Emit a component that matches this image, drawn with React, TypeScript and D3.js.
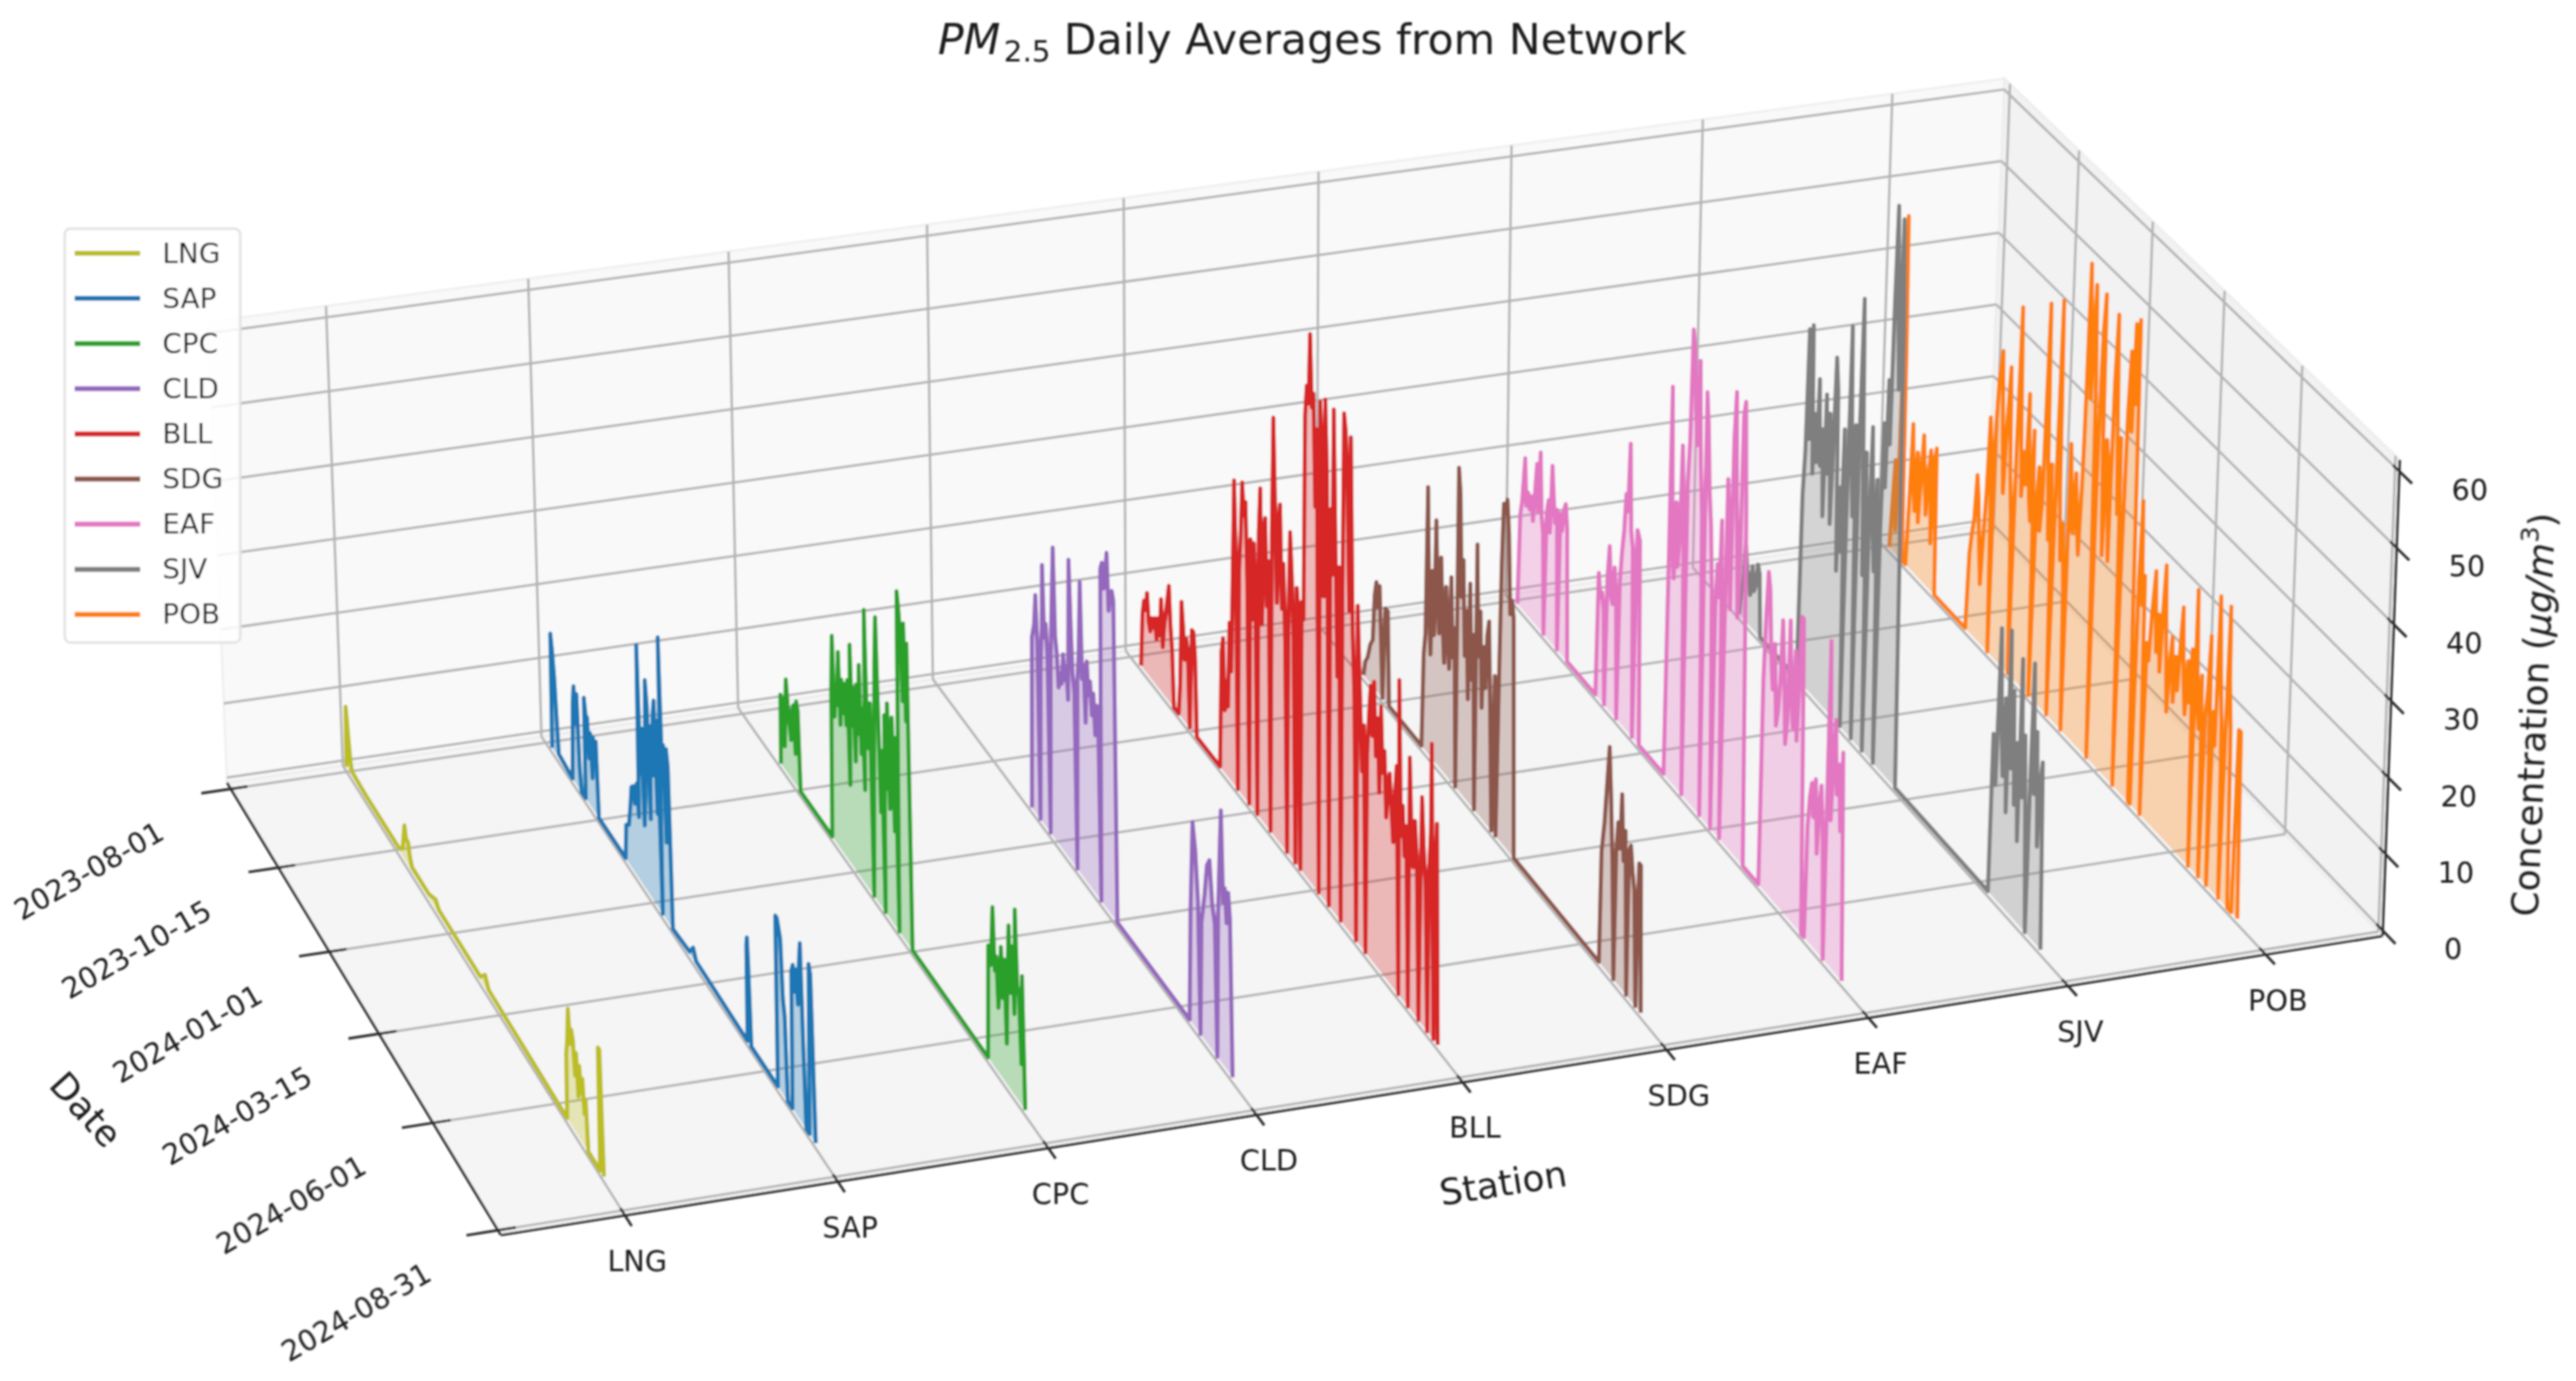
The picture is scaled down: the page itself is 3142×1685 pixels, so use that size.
import React from 'react';
import * as d3 from 'd3';

const stations = ['LNG', 'SAP', 'CPC', 'CLD', 'BLL', 'SDG', 'EAF', 'SJV', 'POB'];
const stationColors = ['#bcbd22', '#1f77b4', '#2ca02c', '#9467bd', '#d62728', '#8c564b', '#e377c2', '#7f7f7f', '#ff7f0e'];
const dateTicks = ['2023-08-01', '2023-10-15', '2024-01-01', '2024-03-15', '2024-06-01', '2024-08-31'];
const concTicks = [0, 10, 20, 30, 40, 50, 60];

// [days since 2023-08-01, PM2.5]
const LNG = [[0,0],[2,8],[3,7],[5,4],[7,1.5],[9,0.5],[30,0.3],[80,0.3],[86,1],[90,4.5],[92,3],[95,3],[97,1.5],[100,0.5],[125,0.5],[135,1.2],[140,0.5],[200,0.4],[207,1.6],[212,0.4],[322,0],[323,8],[325,10],[327,14],[329,10],[331,12],[333,11],[335,7],[337,10],[339,5],[341,9],[343,6],[345,8],[347,4],[349,6],[351,0],[367,0],[368,15],[370,15],[372,0]];
const SAP = [[10,0],[12,15],[14,13],[16,10],[18,5],[20,0.5],[40,0],[43,10],[45,12.5],[47,8],[49,12],[51,3],[53,0],[59,0],[60,13],[62,11],[64,11],[66,6],[68,9.5],[70,4],[72,9.5],[74,7],[76,9.5],[78,0],[116,0],[118,4.5],[122,5],[125,8],[127,10.5],[130,11],[132,9],[135,12],[137,8],[139,30],[141,14],[143,20],[145,8],[147,12],[150,27],[152,24],[154,10],[156,22],[158,16],[160,24],[162,26],[164,12],[166,24],[168,0],[170,35],[172,18],[174,22],[176,10],[178,22],[180,20],[182,0],[205,0.3],[210,1.5],[214,0.3],[283,0],[284,12],[285,13],[286,10],[288,0],[323,0],[324,21],[326,21],[328,20],[330,19],[332,12],[334,10],[336,0],[342,0],[344,17],[346,18],[348,15],[350,18],[352,14],[354,19],[356,22],[358,10],[360,0],[364,0],[367,21],[369,20],[372,0]];
const CPC = [[54,0],[55,9],[57,8],[59,9],[60,3],[63,12],[65,9],[67,7],[69,5],[71,9],[73,10],[75,4],[77,11],[79,10],[81,0],[124,0],[126,19],[128,26],[130,16],[132,20],[134,18],[136,25],[138,16],[140,22],[142,18],[144,22],[146,17],[148,23],[150,10],[152,28],[154,18],[156,23],[158,14],[160,24],[162,18],[164,27],[166,16],[168,22],[170,12],[172,35],[174,20],[176,18],[178,24],[180,0],[182,14],[185,30],[187,36],[189,24],[191,12],[193,20],[195,0],[197,25],[199,16],[201,27],[203,14],[205,20],[207,26],[209,12],[211,24],[213,0],[216,43],[218,41],[220,38],[222,30],[224,40],[226,28],[228,38],[230,0],[326,0],[328,14],[331,12],[334,19.5],[336,12],[338,14],[340,8],[342,11],[344,16],[346,10],[348,15],[350,5],[352,14],[354,20],[356,12],[358,18],[360,10],[362,23],[364,14],[366,13],[368,5],[370,16],[372,0]];
const CLD = [[125,0],[127,22],[130,24],[132,28],[134,22],[136,0],[138,20],[140,25],[141,33],[143,24],[145,26],[147,22],[149,0],[151,22],[153,30],[155,37],[157,26],[159,24],[161,20],[163,22],[165,21],[167,25],[169,22],[171,24],[173,20],[175,38],[177,30],[179,24],[181,22],[183,0],[185,24],[187,28],[189,37],[191,25],[193,27],[195,20],[197,28],[199,24],[201,26],[203,22],[205,25],[207,20],[209,24],[211,21],[213,0],[215,42],[217,43],[219,40],[221,42],[223,45],[225,38],[227,40],[229,41],[231,40],[233,0],[321,0],[323,14],[326,25],[329,22],[332,16],[334,0],[336,14],[340,18],[343,22],[346,23],[349,18],[352,16],[354,0],[356,18],[358,25],[360,31],[362,20],[364,22],[366,18],[368,22],[370,19],[372,0]];
const BLL = [[14,0],[16,7],[18,9],[20,8],[22,10.5],[24,7],[26,6],[28,8],[30,7],[32,8.5],[34,6],[36,9],[38,7],[40,12],[42,6],[44,9],[46,11],[48,13],[50,15],[52,10],[54,7],[56,0],[62,0],[64,4],[66,15],[68,12],[70,8],[72,11],[74,9],[76,0],[79,13],[81,13],[83,10],[85,0],[114,0],[116,15],[118,17],[120,8],[122,12],[124,9],[126,20],[128,14],[130,26],[132,39],[134,30],[136,0],[138,28],[140,33],[142,40],[144,36],[146,38],[148,28],[150,0],[152,34],[154,24],[156,34],[158,27],[160,0],[162,36],[164,42],[166,25],[168,36],[170,39],[172,28],[174,34],[176,0],[178,38],[180,53],[182,42],[184,30],[186,40],[188,43],[190,30],[192,36],[194,26],[196,0],[198,30],[200,41],[202,36],[204,28],[206,0],[208,35],[210,32],[212,0],[214,34],[216,32],[218,58],[220,62],[222,60],[224,69],[226,60],[228,62],[230,48],[232,58],[234,0],[236,62],[238,55],[240,38],[242,63],[244,54],[246,0],[248,50],[250,42],[252,63],[254,46],[256,30],[258,44],[260,0],[262,40],[264,64],[266,62],[268,56],[270,40],[272,62],[274,38],[276,30],[278,0],[280,42],[283,30],[285,22],[287,28],[289,0],[291,25],[293,30],[295,34],[297,28],[299,35],[301,26],[303,31],[305,22],[307,33],[309,25],[311,28],[313,20],[315,24],[317,26],[319,22],[321,18],[323,24],[325,28],[327,0],[328,39],[330,20],[332,24],[334,18],[336,22],[338,0],[340,31],[342,22],[344,18],[346,24],[348,20],[350,0],[352,15],[354,28],[356,22],[358,18],[360,0],[362,20],[364,25],[365,36],[367,0],[369,20],[371,27],[372,0]];
const SDG = [[52,0],[54,2],[57,3],[60,5],[63,6],[65,12],[67,14],[69,11],[71,14],[73,7],[75,0],[78,12],[81,12],[83,0],[122,0],[124,12],[126,15],[128,34],[130,20],[132,13],[134,24],[136,16],[138,31],[140,22],[142,17],[144,27],[146,19],[148,14],[150,24],[152,18],[154,14],[156,26],[158,16],[160,20],[162,0],[164,41],[166,38],[168,25],[170,30],[172,18],[174,24],[176,13],[178,28],[180,16],[182,22],[184,0],[186,34],[188,20],[190,26],[192,14],[194,22],[196,17],[198,24],[200,26],[202,14],[204,0],[207,20],[209,0],[212,22],[214,35],[216,43],[218,42],[220,44],[222,40],[224,30],[226,32],[228,30],[230,0],[326,0],[328,14],[331,18],[334,24],[336,28],[338,22],[340,14],[342,0],[344,16],[346,20],[348,17],[350,24],[352,16],[354,20],[356,0],[358,18],[360,19],[362,16],[364,14],[366,0],[369,18],[371,18],[372,0]];
const EAF = [[8,0],[10,12],[12,14],[15,20],[17,14],[19,16],[21,14],[23,16],[25,13],[27,17],[29,21],[31,15],[33,23],[35,15],[37,13],[39,0],[41,16],[43,18],[45,14],[47,23],[49,19],[51,16],[53,18],[55,0],[57,18],[59,16],[61,19],[63,20],[65,17],[67,0],[100,0],[102,16],[104,13],[106,14],[108,12],[110,0],[112,17],[114,21],[116,15],[118,14],[120,19],[122,15],[124,0],[126,18],[128,22],[130,25],[132,30],[134,28],[136,37],[138,26],[140,24],[142,0],[145,27],[148,26],[150,0],[178,0],[180,24],[182,50],[184,30],[186,26],[188,36],[190,28],[192,32],[194,44],[196,36],[198,0],[200,40],[202,46],[204,60],[206,58],[208,50],[210,46],[212,57],[214,44],[216,38],[218,0],[220,54],[222,50],[224,42],[226,38],[228,30],[230,0],[232,28],[234,34],[236,30],[238,40],[240,0],[244,46],[246,40],[248,30],[250,52],[252,58],[254,42],[256,30],[258,38],[260,56],[262,58],[264,44],[266,0],[283,0],[285,26],[287,34],[289,40],[291,38],[293,30],[295,26],[297,32],[299,22],[301,24],[303,28],[305,36],[307,30],[309,21],[311,24],[313,37],[315,28],[317,24],[319,34],[321,23],[323,30],[325,39],[327,39],[329,0],[332,0],[334,14],[336,18],[338,20],[340,16],[342,21],[344,12],[346,18],[348,21],[350,15],[352,0],[354,20],[356,40],[358,18],[360,25],[362,31],[364,22],[366,26],[368,18],[370,28],[372,0]];
const SJV = [[47,0],[49,3],[51,5],[53,10],[55,7],[57,6],[59,4],[61,8],[63,5],[65,6],[67,9],[69,8],[71,0],[112,0],[114,24],[116,30],[118,46],[120,32],[122,47],[124,28],[126,36],[128,30],[130,41],[132,30],[134,35],[136,24],[138,40],[140,30],[142,38],[144,24],[146,34],[148,46],[150,42],[152,19],[154,30],[156,22],[158,38],[160,0],[162,30],[164,52],[166,36],[168,28],[170,40],[172,0],[174,40],[176,57],[178,40],[180,22],[182,38],[184,0],[186,28],[188,42],[190,30],[192,24],[194,36],[196,0],[198,30],[200,44],[202,36],[204,50],[206,42],[208,60],[210,73],[212,60],[214,50],[216,72],[218,60],[220,0],[318,0],[320,20],[323,14],[326,34],[328,22],[330,16],[332,26],[334,12],[336,35],[338,18],[340,28],[342,14],[344,22],[346,10],[348,33],[350,16],[352,24],[354,12],[356,0],[358,20],[360,34],[362,18],[364,26],[366,12],[368,20],[370,23],[372,0]];
const POB = [[6,0],[8,6],[10,12],[12,3],[14,13],[16,45],[18,28],[20,0],[24,0],[26,8],[28,19],[30,12],[32,8],[34,16],[36,7],[38,13],[40,19],[42,14],[44,9],[46,15],[48,18],[50,6],[52,17],[54,19],[56,0],[90,0],[92,10],[94,13],[96,15],[98,21],[100,18],[102,12],[104,7.5],[106,14],[108,20],[110,30],[112,26],[114,0],[116,30],[118,36],[121,40],[123,30],[125,22],[127,30],[130,39],[132,26],[134,20],[136,0],[138,30],[140,48],[142,34],[144,24],[146,30],[148,26],[150,38],[152,25],[154,22],[156,34],[158,0],[160,24],[162,30],[164,22],[166,26],[169,52],[171,32],[173,22],[175,32],[177,0],[179,22],[182,54],[184,30],[186,21],[188,26],[190,18],[192,0],[194,37],[196,30],[198,26],[200,34],[202,28],[204,24],[206,33],[207,40],[209,62],[211,52],[212,45],[215,60],[217,48],[219,0],[221,40],[223,55],[225,60],[226,40],[228,27],[230,42],[232,38],[234,27],[236,50],[238,59],[240,46],[242,34],[244,44],[246,0],[248,30],[250,48],[252,56],[254,46],[256,60],[258,50],[260,61],[262,0],[264,0],[266,28],[268,39],[270,26],[272,30],[274,0],[276,22],[278,20],[280,26],[283,32],[285,22],[287,27],[289,20],[291,28],[293,34],[295,24],[297,16],[299,22],[301,26],[303,18],[305,24],[307,20],[309,26],[311,31],[313,22],[315,18],[317,25],[319,20],[321,27],[323,0],[325,35],[327,22],[329,18],[331,25],[333,0],[335,20],[337,24],[339,31],[341,0],[343,22],[345,18],[347,37],[349,28],[351,22],[353,0],[355,20],[357,37],[358,28],[360,22],[362,0],[366,0],[368,23],[370,23],[372,0]];
const stationData = [LNG, SAP, CPC, CLD, BLL, SDG, EAF, SJV, POB];

// my readings came out a little short against the reference peaks
const readGain = 1.05;

const width = 3142;
const height = 1685;

// corners of the plot box on screen: far-left, far-right, near-right, near-left
const floorQuad = [[277, 955], [2425, 640], [2906, 1142], [611, 1507]];
const topQuad = [[254, 393], [2445, 96], [2927, 561], [594, 902]];

// maps the unit square onto a quad, so the box keeps its perspective
function quadMap(q: number[][]) {
  const [[x0, y0], [x1, y1], [x2, y2], [x3, y3]] = q;
  const sx = x0 - x1 + x2 - x3;
  const sy = y0 - y1 + y2 - y3;
  const dx1 = x1 - x2, dx2 = x3 - x2, dy1 = y1 - y2, dy2 = y3 - y2;
  const den = dx1 * dy2 - dx2 * dy1;
  const g = (sx * dy2 - dx2 * sy) / den;
  const h = (dx1 * sy - sx * dy1) / den;
  const a = x1 - x0 + g * x1, b = x3 - x0 + h * x3;
  const d = y1 - y0 + g * y1, e = y3 - y0 + h * y3;
  return (u: number, v: number) => {
    const w = g * u + h * v + 1;
    return [(a * u + b * v + x0) / w, (d * u + e * v + y0) / w];
  };
}

const floorAt = quadMap(floorQuad);
const topAt = quadMap(topQuad);

const uScale = d3.scalePoint<string>().domain(stations).range([0.063, 0.935]);
const vScale = d3.scaleTime()
  .domain([new Date(2023, 6, 26), new Date(2024, 8, 4)])
  .range([0, 1]);
const zScale = d3.scaleLinear().domain([-0.7, 61.5]).range([0, 1]);

const project = (u: number, v: number, zn: number) => {
  const f = floorAt(u, v);
  const t = topAt(u, v);
  return [f[0] + (t[0] - f[0]) * zn, f[1] + (t[1] - f[1]) * zn];
};

const start = new Date(2023, 7, 1);
const dayV = (d: number) => vScale(d3.timeDay.offset(start, d));
const tickV = (s: string) => vScale(d3.timeParse('%Y-%m-%d')(s) as Date);
const z0 = zScale(0);

const seg = d3.line();
const poly = (pts: number[][]) => seg(pts as [number, number][]) + 'Z';

const paneBack = [[0, 0, 0], [1, 0, 0], [1, 0, 1], [0, 0, 1]];
const paneRight = [[1, 0, 0], [1, 1, 0], [1, 1, 1], [1, 0, 1]];
const paneFloor = [[0, 0, 0], [1, 0, 0], [1, 1, 0], [0, 1, 0]];
const corners = (p: number[][]) => p.map(([u, v, z]) => project(u, v, z));

const gridColor = '#b4b4b4';
const inkColor = '#1e1e1e';
const fontFamily = '"DejaVu Sans", sans-serif';

const Series = ({ name, index }: { name: string; index: number }) => {
  const u = uScale(name) as number;
  const rows = stationData[index];
  const top = (r: number[]) => project(u, dayV(r[0]), zScale(r[1] * readGain));
  const base = (r: number[]) => project(u, dayV(r[0]), z0);
  const area = d3.area<number[]>()
    .x0((r) => base(r)[0]).y0((r) => base(r)[1])
    .x1((r) => top(r)[0]).y1((r) => top(r)[1]);
  const line = d3.line<number[]>().x((r) => top(r)[0]).y((r) => top(r)[1]);
  const color = stationColors[index];
  return (
    <g>
      <path d={area(rows) as string} fill={color} fillOpacity={0.3} stroke="none" />
      <path d={line(rows) as string} fill="none" stroke={color} strokeWidth={5} strokeLinejoin="round" />
    </g>
  );
};

export default function App() {
  const vTicks = dateTicks.map(tickV);
  const uTicks = stations.map((s) => uScale(s) as number);
  return (
    <svg width={width} height={height} style={{ position: 'absolute', left: 0, top: 0, display: 'block', background: '#fff' }} fontFamily={fontFamily}>
      <defs>
        <filter id="soft" filterUnits="userSpaceOnUse" x={0} y={0} width={width} height={height}>
          <feGaussianBlur stdDeviation={1.2} />
        </filter>
      </defs>
      <g filter="url(#soft)">
        <path d={poly(corners(paneBack))} fill="#f9f9f9" stroke="#f0f0f0" strokeWidth={3} />
        <path d={poly(corners(paneRight))} fill="#f2f2f2" stroke="#eeeeee" strokeWidth={3} />
        <path d={poly(corners(paneFloor))} fill="#f5f5f5" stroke="#eeeeee" strokeWidth={3} />

        {/* grid on the back wall, right wall and floor */}
        {uTicks.map((u, i) => (
          <g key={i} stroke={gridColor} strokeWidth={3}>
            <path d={seg([project(u, 0, 0), project(u, 0, 1)] as [number, number][]) as string} />
            <path d={seg([project(u, 0, 0), project(u, 1, 0)] as [number, number][]) as string} />
          </g>
        ))}
        {vTicks.map((v, i) => (
          <g key={i} stroke={gridColor} strokeWidth={3}>
            <path d={seg([project(0, v, 0), project(1, v, 0)] as [number, number][]) as string} />
            <path d={seg([project(1, v, 0), project(1, v, 1)] as [number, number][]) as string} />
          </g>
        ))}
        {concTicks.map((c) => (
          <g key={c} stroke={gridColor} strokeWidth={3}>
            <path d={seg([project(0, 0, zScale(c)), project(1, 0, zScale(c))] as [number, number][]) as string} />
            <path d={seg([project(1, 0, zScale(c)), project(1, 1, zScale(c))] as [number, number][]) as string} />
          </g>
        ))}

        {/* axis lines and ticks */}
        <g stroke="#2e2e2e" strokeWidth={3.2} fill="none">
          <path d={seg([project(0, 0, 0), project(0, 1, 0)] as [number, number][]) as string} />
          <path d={seg([project(0, 1, 0), project(1, 1, 0)] as [number, number][]) as string} />
          <path d={seg([project(1, 1, 0), project(1, 1, 1)] as [number, number][]) as string} />
          {vTicks.map((v, i) => (
            <path key={i} d={seg([project(-0.016, v, 0), project(0.009, v, 0)] as [number, number][]) as string} />
          ))}
          {uTicks.map((u, i) => (
            <path key={i} d={seg([project(u, 0.985, 0), project(u, 1.022, 0)] as [number, number][]) as string} />
          ))}
          {concTicks.map((c) => (
            <path key={c} d={seg([project(1, 0.985, zScale(c)), project(1, 1.03, zScale(c))] as [number, number][]) as string} />
          ))}
        </g>

        {/* nearest station painted last */}
        {stations.map((s, i) => ({ s, i })).reverse().map(({ s, i }) => (
          <Series key={s} name={s} index={i} />
        ))}

        {/* tick labels */}
        <g fill={inkColor} fontSize={35}>
          {dateTicks.map((d, i) => {
            const [x, y] = project(0, vTicks[i], 0);
            return (
              <text key={d} transform={`translate(${x - 172},${y + 102}) rotate(-30)`} textAnchor="middle" dominantBaseline="middle">{d}</text>
            );
          })}
          {stations.map((s, i) => {
            const [x, y] = project(uTicks[i], 1, 0);
            return (
              <text key={s} x={x + 15} y={y + 58} textAnchor="middle" dominantBaseline="middle">{s}</text>
            );
          })}
          {concTicks.map((c) => {
            const [x, y] = project(1, 1, zScale(c));
            return (
              <text key={c} x={x + 86} y={y + 25} textAnchor="middle" dominantBaseline="middle">{c}</text>
            );
          })}
        </g>

        {/* axis titles */}
        <g fill={inkColor} fontSize={44}>
          <text transform="translate(1834,1447) rotate(-9)" textAnchor="middle" dominantBaseline="middle">Station</text>
          <text transform="translate(102,1356) rotate(48)" textAnchor="middle" dominantBaseline="middle">Date</text>
          <text transform="translate(3094,872) rotate(-87.5)" textAnchor="middle" dominantBaseline="middle">
            Concentration (<tspan fontStyle="italic">μg/m</tspan><tspan fontSize={31} dy={-16}>3</tspan><tspan dy={16}>)</tspan>
          </text>
        </g>

        <text x={1144} y={66} fontSize={52} fill={inkColor}>
          <tspan fontStyle="italic">PM</tspan>
          <tspan fontSize={36} dy={9} dx={4}>2.5</tspan>
          <tspan dy={-9} dx={16}>Daily Averages from Network</tspan>
        </text>

        {/* legend */}
        <rect x={79} y={279} width={214} height={505} rx={7} fill="#ffffff" fillOpacity={0.85} stroke="#e2e2e2" strokeWidth={3} />
        {stations.map((s, i) => {
          const y = 309 + i * 55.1;
          return (
            <g key={s}>
              <line x1={91} x2={171} y1={y} y2={y} stroke={stationColors[i]} strokeWidth={6} />
              <text x={198} y={y + 2} fontSize={34} fill={inkColor} dominantBaseline="middle">{s}</text>
            </g>
          );
        })}
      </g>
    </svg>
  );
}
